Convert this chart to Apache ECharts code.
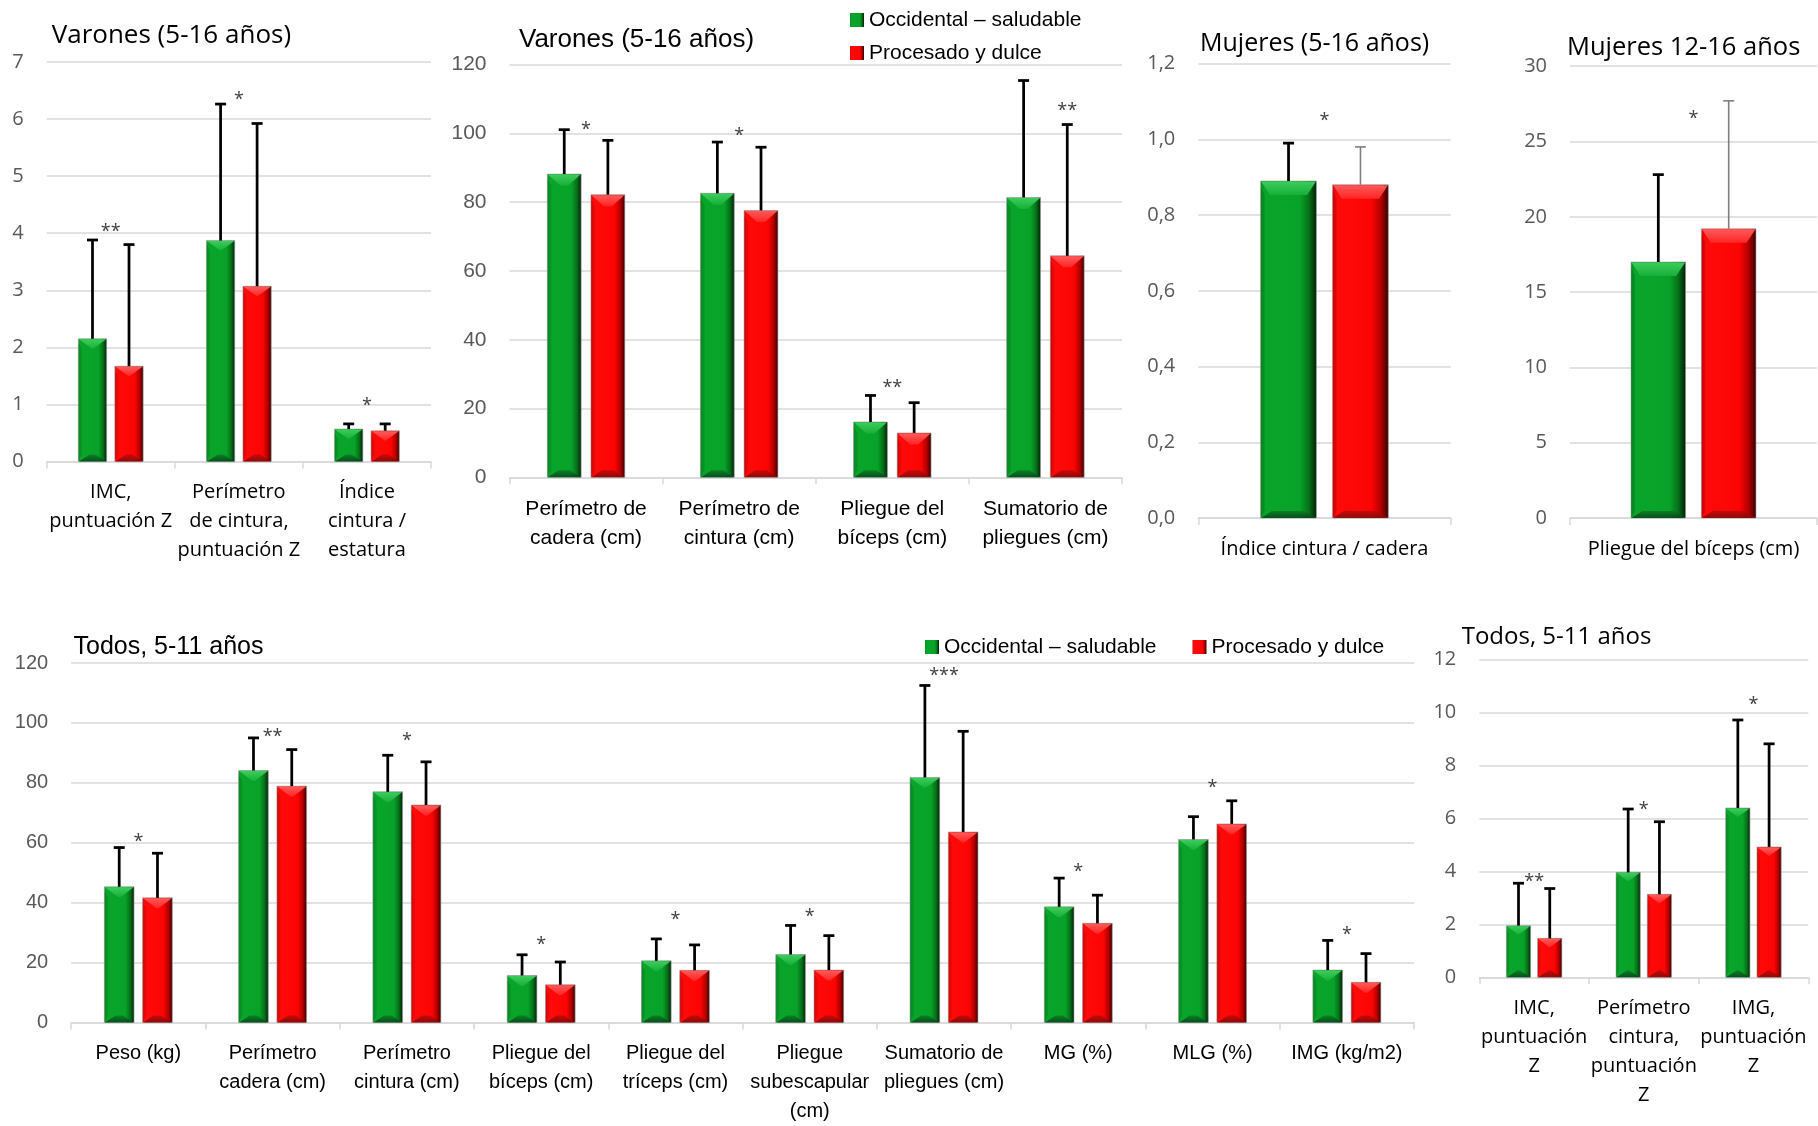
<!DOCTYPE html>
<html>
<head>
<meta charset="utf-8">
<script src="https://cdn.jsdelivr.net/npm/echarts@6/dist/echarts.min.js"></script>
<style>
  html, body { margin: 0; padding: 0; background: #ffffff; }
  #chart { width: 1818px; height: 1126px; }
</style>
</head>
<body>
<div id="chart"></div>
<script>
// ---------------- data ----------------
const seriesNames = ['Occidental – saludable', 'Procesado y dulce'];

// Varones (5-16 años), z-scores and index
const vzCategories = ['IMC,\npuntuación Z', 'Perímetro\nde cintura,\npuntuación Z', 'Índice\ncintura /\nestatura'];
const vzSaludable = [2.15, 3.87, 0.57];
const vzSaludableSD = [1.73, 2.39, 0.09];
const vzProcesado = [1.67, 3.07, 0.54];
const vzProcesadoSD = [2.13, 2.85, 0.12];
const vzSignif = ['**', '*', '*'];
const vzSignifLevel = [4.1, 6.4, 1.05];
const vzYTicks = { min: 0, max: 7, interval: 1 };

// Varones (5-16 años), centimetres
const vcCategories = ['Perímetro de\ncadera (cm)', 'Perímetro de\ncintura (cm)', 'Pliegue del\nbíceps (cm)', 'Sumatorio de\npliegues (cm)'];
const vcSaludable = [88.2, 82.6, 16.1, 81.4];
const vcSaludableSD = [12.9, 14.9, 7.7, 34.0];
const vcProcesado = [82.2, 77.6, 12.9, 64.4];
const vcProcesadoSD = [15.8, 18.4, 8.8, 38.2];
const vcSignif = ['*', '*', '**', '**'];
const vcSignifLevel = [102.3, 100.5, 27.3, 107.8];
const vcSignifAnchor = [0, 0, 0, 1];
const vcYTicks = { min: 0, max: 120, interval: 20 };

// Mujeres (5-16 años)
const m1Categories = ['Índice cintura / cadera'];
const m1Saludable = [0.89];
const m1SaludableSD = [0.10];
const m1Procesado = [0.88];
const m1ProcesadoSD = [0.10];
const m1Signif = ['*'];
const m1SignifLevel = [1.06];
const m1YTicks = { min: 0, max: 1.2, interval: 0.2 };

// Mujeres 12-16 años
const m2Categories = ['Pliegue del bíceps (cm)'];
const m2Saludable = [17.0];
const m2SaludableSD = [5.8];
const m2Procesado = [19.2];
const m2ProcesadoSD = [8.5];
const m2Signif = ['*'];
const m2SignifLevel = [26.8];
const m2YTicks = { min: 0, max: 30, interval: 5 };

// Todos, 5-11 años, measurements
const tmCategories = ['Peso (kg)', 'Perímetro\ncadera (cm)', 'Perímetro\ncintura (cm)', 'Pliegue del\nbíceps (cm)',
  'Pliegue del\ntríceps (cm)', 'Pliegue\nsubescapular\n(cm)', 'Sumatorio de\npliegues (cm)', 'MG (%)', 'MLG (%)', 'IMG (kg/m2)'];
const tmSaludable = [45.3, 84.1, 77.0, 15.7, 20.6, 22.7, 81.8, 38.6, 61.1, 17.5];
const tmSaludableSD = [13.1, 10.9, 12.2, 6.9, 7.3, 9.7, 30.7, 9.6, 7.6, 9.9];
const tmProcesado = [41.6, 78.9, 72.6, 12.6, 17.4, 17.5, 63.6, 33.1, 66.3, 13.4];
const tmProcesadoSD = [14.9, 12.2, 14.4, 7.6, 8.5, 11.5, 33.6, 9.4, 7.7, 9.6];
const tmSignif = ['*', '**', '*', '*', '*', '*', '***', '*', '*', '*'];
const tmSignifLevel = [61.7, 96.8, 95.3, 27.1, 35.6, 36.6, 117.1, 51.6, 79.6, 30.5];
const tmYTicks = { min: 0, max: 120, interval: 20 };

// Todos, 5-11 años, z-scores
const tzCategories = ['IMC,\npuntuación\nZ', 'Perímetro\ncintura,\npuntuación\nZ', 'IMG,\npuntuación\nZ'];
const tzSaludable = [1.95, 3.96, 6.39];
const tzSaludableSD = [1.60, 2.39, 3.32];
const tzProcesado = [1.47, 3.13, 4.92];
const tzProcesadoSD = [1.88, 2.74, 3.89];
const tzSignif = ['**', '*', '*'];
const tzSignifLevel = [3.74, 6.47, 10.43];
const tzYTicks = { min: 0, max: 12, interval: 2 };

// ---------------- styling ----------------
const OPEN = "'Open Sans', 'Noto Sans', sans-serif";
const ARIAL = "'Liberation Sans', Arial, sans-serif";
const BAR_FRAC = 0.221;   // bar width as a share of the category band
const BAR_STEP = 0.1425;  // distance from band centre to each bar centre

const GREEN = {
  stops: [[0, '#088a22'], [0.08, '#09a52a'], [0.7, '#08a229'], [0.86, '#067019'], [1, '#021a06']],
  topStops: [[0, '#3dcc5c'], [1, '#16b038']],
  left: 'rgba(0,90,20,0.25)',
  bottomStops: [[0, '#0a7a22'], [1, '#05401a']]
};
const RED = {
  stops: [[0, '#d80000'], [0.08, '#ff0a0a'], [0.7, '#fb0404'], [0.86, '#b20000'], [1, '#2c0000']],
  topStops: [[0, '#ff5a5a'], [1, '#ff2424']],
  left: 'rgba(120,0,0,0.2)',
  bottomStops: [[0, '#c00808'], [1, '#7a0a0a']]
};
const ERR_BLACK = { color: '#000000', width: 2.75, cap: 11 };
const ERR_GRAY = { color: '#7f7f7f', width: 1.6, cap: 11 };

function hGradient(stops) {
  return new echarts.graphic.LinearGradient(0, 0, 1, 0, stops.map(s => ({ offset: s[0], color: s[1] })));
}
function vGradient(stops) {
  return new echarts.graphic.LinearGradient(0, 0, 0, 1, stops.map(s => ({ offset: s[0], color: s[1] })));
}

// bevelled bar with a one-sided (upper) error bar
function makeBar(side, pal, err) {
  return function (params, api) {
    const i = api.value(0), mean = api.value(1), sd = api.value(2);
    const band = api.size([1, 0])[0];
    const base = api.coord([i, 0]);
    const top = api.coord([i, mean]);
    const hi = api.coord([i, mean + sd]);
    const w = band * BAR_FRAC;
    const cx = base[0] + side * band * BAR_STEP;
    const x0 = cx - w / 2, x1 = cx + w / 2;
    const yt = top[1], yb = base[1];
    const h = yb - yt;
    const dv = Math.min(14, 0.25 * w + 3, h * 0.45);          // depth of the upper facet
    const dh = Math.min(w / 2, Math.max(0, (37.5 - 0.34 * w) / 2)); // side inset of the upper facet
    const db = Math.min(7, h * 0.3);                           // depth of the lower facet
    const dl = Math.min(4, w * 0.12);                          // width of the left facet
    return {
      type: 'group',
      children: [
        { type: 'rect', shape: { x: x0, y: yt, width: w, height: h },
          style: { fill: hGradient(pal.stops), stroke: 'rgba(160,160,160,0.6)', lineWidth: 1 } },
        { type: 'polygon',
          shape: { points: [[x0, yt + dv * 0.4], [x0 + dl, yt + dv], [x0 + dl, yb - db], [x0, yb]] },
          style: { fill: pal.left } },
        { type: 'polygon',
          shape: { points: [[x0 + 0.5, yt + 0.5], [x1 - 0.5, yt + 0.5], [x1 - dh, yt + dv], [x0 + dh, yt + dv]] },
          style: { fill: vGradient(pal.topStops) } },
        { type: 'polygon',
          shape: { points: [[x0 + 0.5, yb], [x0 + Math.min(w / 2, db * 1.6), yb - db],
                            [x1 - Math.min(w / 2, db * 1.6), yb - db], [x1 - 0.5, yb]] },
          style: { fill: vGradient(pal.bottomStops), opacity: 0.85 } },
        { type: 'line', shape: { x1: cx, y1: yt, x2: cx, y2: hi[1] },
          style: { stroke: err.color, lineWidth: err.width } },
        { type: 'line', shape: { x1: cx - err.cap / 2, y1: hi[1], x2: cx + err.cap / 2, y2: hi[1] },
          style: { stroke: err.color, lineWidth: err.width } }
      ]
    };
  };
}

function makeSignif(texts) {
  return function (params, api) {
    const i = api.value(0), lvl = api.value(1), anchor = api.value(2);
    const band = api.size([1, 0])[0];
    const p = api.coord([i, lvl]);
    return {
      type: 'text',
      x: p[0] + anchor * band * BAR_STEP,
      y: p[1] + 4,
      style: { text: texts[params.dataIndex], font: '18px ' + OPEN, fill: '#404040',
               textAlign: 'center', textVerticalAlign: 'middle', align: 'center', verticalAlign: 'middle' }
    };
  };
}

const panels = [
  { grid: { left: 46.7, top: 61.8, width: 384.3, height: 399.8 }, font: OPEN, xSize: 20, ySize: 20, margin: 16,
    cats: vzCategories, g: vzSaludable, gSD: vzSaludableSD, r: vzProcesado, rSD: vzProcesadoSD,
    sig: vzSignif, sigLvl: vzSignifLevel, ticks: vzYTicks, redErr: ERR_BLACK },
  { grid: { left: 509.5, top: 64.7, width: 612.5, height: 412.6 }, font: ARIAL, xSize: 21, ySize: 21, margin: 17,
    cats: vcCategories, g: vcSaludable, gSD: vcSaludableSD, r: vcProcesado, rSD: vcProcesadoSD,
    sig: vcSignif, sigLvl: vcSignifLevel, sigAnchor: vcSignifAnchor, ticks: vcYTicks, redErr: ERR_BLACK },
  { grid: { left: 1198.3, top: 63.6, width: 252.4, height: 454.4 }, font: OPEN, xSize: 20, ySize: 20, margin: 16.5,
    cats: m1Categories, g: m1Saludable, gSD: m1SaludableSD, r: m1Procesado, rSD: m1ProcesadoSD,
    sig: m1Signif, sigLvl: m1SignifLevel, ticks: m1YTicks, redErr: ERR_GRAY,
    yFmt: v => v.toFixed(1).replace('.', ',') },
  { grid: { left: 1570, top: 66.2, width: 247, height: 451.8 }, font: OPEN, xSize: 20, ySize: 20, margin: 16.5,
    cats: m2Categories, g: m2Saludable, gSD: m2SaludableSD, r: m2Procesado, rSD: m2ProcesadoSD,
    sig: m2Signif, sigLvl: m2SignifLevel, ticks: m2YTicks, redErr: ERR_GRAY },
  { grid: { left: 71.2, top: 663, width: 1342.8, height: 361 }, font: ARIAL, xSize: 20, ySize: 20, margin: 16.5,
    cats: tmCategories, g: tmSaludable, gSD: tmSaludableSD, r: tmProcesado, rSD: tmProcesadoSD,
    sig: tmSignif, sigLvl: tmSignifLevel, ticks: tmYTicks, redErr: ERR_BLACK },
  { grid: { left: 1479.3, top: 659.3, width: 329, height: 318 }, font: OPEN, xSize: 20, ySize: 20, margin: 16,
    cats: tzCategories, g: tzSaludable, gSD: tzSaludableSD, r: tzProcesado, rSD: tzProcesadoSD,
    sig: tzSignif, sigLvl: tzSignifLevel, ticks: tzYTicks, redErr: ERR_BLACK }
];

const titles = [
  { text: 'Varones (5-16 años)', x: 51.7, y: 35.3, size: 26, family: OPEN },
  { text: 'Varones (5-16 años)', x: 519, y: 40, size: 26, family: ARIAL },
  { text: 'Mujeres (5-16 años)', x: 1200, y: 43.6, size: 25, family: OPEN },
  { text: 'Mujeres 12-16 años', x: 1567, y: 47.3, size: 25.5, family: OPEN },
  { text: 'Todos, 5-11 años', x: 73.5, y: 646.7, size: 25, family: ARIAL },
  { text: 'Todos, 5-11 años', x: 1461.7, y: 636.7, size: 24, family: OPEN }
];

const grids = [], xAxes = [], yAxes = [], series = [];
panels.forEach((p, k) => {
  grids.push(Object.assign({ containLabel: false }, p.grid));
  xAxes.push({
    type: 'category', gridIndex: k, data: p.cats,
    axisLine: { lineStyle: { color: '#d9d9d9', width: 1.5 } },
    axisTick: { show: true, length: 7, lineStyle: { color: '#d9d9d9', width: 1.5 } },
    axisLabel: { interval: 0, color: '#000000', fontFamily: p.font, fontSize: p.xSize,
                 lineHeight: 29, margin: p.margin }
  });
  yAxes.push({
    type: 'value', gridIndex: k, min: p.ticks.min, max: p.ticks.max, interval: p.ticks.interval,
    axisLine: { show: false }, axisTick: { show: false },
    splitLine: { lineStyle: { color: '#d9d9d9', width: 1.5 } },
    axisLabel: { margin: 23, color: '#595959', fontFamily: p.font, fontSize: p.ySize,
                 formatter: p.yFmt || (v => String(v)) }
  });
  series.push({
    type: 'custom', name: seriesNames[0], xAxisIndex: k, yAxisIndex: k,
    itemStyle: { color: hGradient(GREEN.stops) },
    encode: { x: 0, y: 1 },
    data: p.g.map((v, i) => [i, v, p.gSD[i]]),
    renderItem: makeBar(-1, GREEN, ERR_BLACK)
  });
  series.push({
    type: 'custom', name: seriesNames[1], xAxisIndex: k, yAxisIndex: k,
    itemStyle: { color: hGradient(RED.stops) },
    encode: { x: 0, y: 1 },
    data: p.r.map((v, i) => [i, v, p.rSD[i]]),
    renderItem: makeBar(1, RED, p.redErr)
  });
  series.push({
    type: 'custom', name: 'signif-' + k, xAxisIndex: k, yAxisIndex: k,
    encode: { x: 0, y: 1 },
    data: p.sig.map((s, i) => [i, p.sigLvl[i], p.sigAnchor ? p.sigAnchor[i] : 0]),
    renderItem: makeSignif(p.sig), z: 5
  });
});

const legendData = [
  { name: seriesNames[0], itemStyle: { color: hGradient(GREEN.stops) } },
  { name: seriesNames[1], itemStyle: { color: hGradient(RED.stops) } }
];

const chart = echarts.init(document.getElementById('chart'), null, { renderer: 'canvas' });
chart.setOption({
  animation: false,
  backgroundColor: '#ffffff',
  grid: grids,
  xAxis: xAxes,
  yAxis: yAxes,
  series: series,
  legend: [
    { orient: 'vertical', left: 845, top: 3, itemWidth: 14, itemHeight: 14, itemGap: 9, icon: 'rect',
      selectedMode: false, data: legendData,
      textStyle: { fontFamily: ARIAL, fontSize: 21, color: '#000000', lineHeight: 24 } },
    { orient: 'horizontal', left: 920, top: 630, itemWidth: 14, itemHeight: 14, itemGap: 36, icon: 'rect',
      selectedMode: false, data: legendData,
      textStyle: { fontFamily: ARIAL, fontSize: 21, color: '#000000', lineHeight: 24 } }
  ],
  graphic: titles.map(t => ({
    type: 'text', x: t.x, y: t.y, silent: true,
    style: { text: t.text, font: t.size + 'px ' + t.family, fill: '#000000',
             textAlign: 'left', textVerticalAlign: 'middle', align: 'left', verticalAlign: 'middle' }
  }))
});
</script>
</body>
</html>
